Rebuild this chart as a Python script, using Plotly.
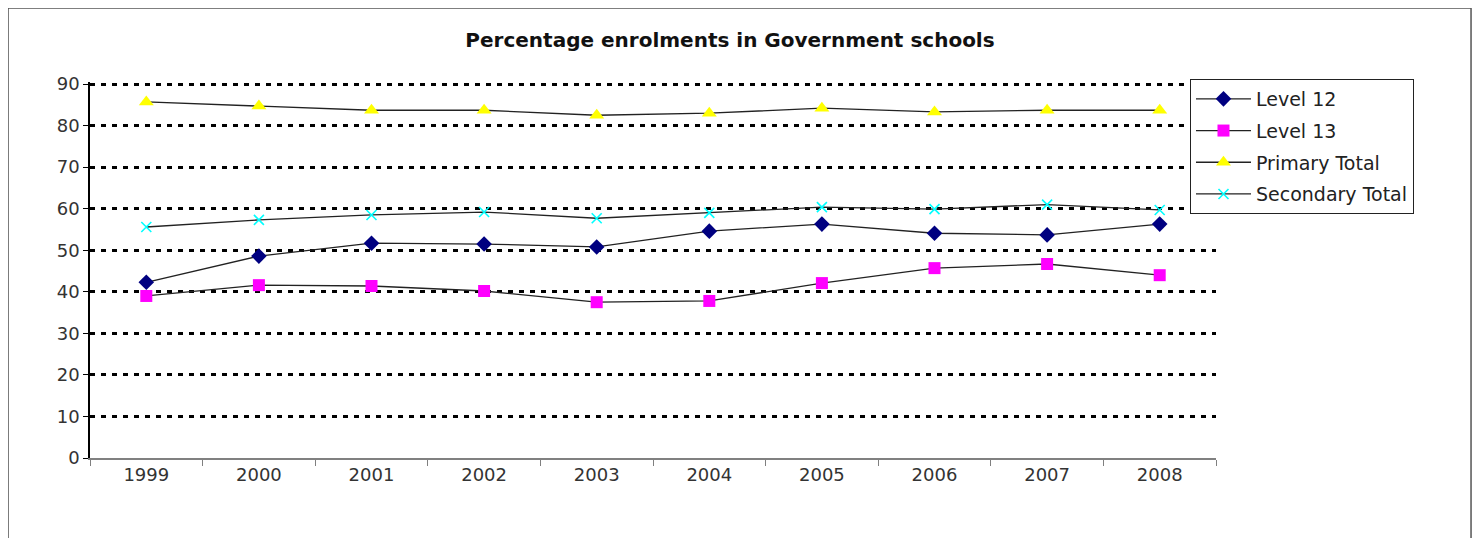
import plotly.graph_objects as go

years = ['1999', '2000', '2001', '2002', '2003', '2004', '2005', '2006', '2007', '2008']
level_12 = [42.3, 48.6, 51.7, 51.5, 50.8, 54.6, 56.3, 54.1, 53.7, 56.3]
level_13 = [39.0, 41.6, 41.4, 40.2, 37.5, 37.8, 42.1, 45.7, 46.7, 44.0]
primary_total = [85.7, 84.7, 83.7, 83.7, 82.5, 83.0, 84.2, 83.3, 83.7, 83.7]
secondary_total = [55.6, 57.3, 58.5, 59.2, 57.7, 59.0, 60.4, 59.9, 61.0, 59.7]

FONT = 'DejaVu Sans'

fig = go.Figure()

def add_series(name, values, symbol, color, size, line_w=0):
    marker = dict(symbol=symbol, color=color, size=size)
    if line_w:
        marker['line'] = dict(color=color, width=line_w)
    fig.add_trace(go.Scatter(x=years, y=values, name=name, mode='lines+markers',
                             legendgroup=name,
                             line=dict(color='#222222', width=1.3),
                             marker=marker))

add_series('Level 12', level_12, 'diamond', '#000080', 12)
add_series('Level 13', level_13, 'square', '#FF00FF', 12)
add_series('Primary Total', primary_total, 'triangle-up', '#FFFF00', 13)
add_series('Secondary Total', secondary_total, 'x-thin-open', '#00FFFF', 10, 1.6)

# chart frame around everything
fig.add_shape(type='rect', xref='paper', yref='paper',
              x0=-0.0728, x1=1.2265, y0=-0.4, y1=1.1968,
              line=dict(color='#555555', width=1.5), layer='below')

# page body adds 8px offset, so margins are shifted by 8
fig.update_layout(
    width=1481, height=538,
    margin=dict(l=82, r=273, t=74, b=88),
    paper_bgcolor='white', plot_bgcolor='white',
    font=dict(family=FONT, size=18, color='#333333'),
    title=dict(text='<b>Percentage enrolments in Government schools</b>',
               x=0.4875, xref='container', xanchor='center',
               y=0.9405, yref='container', yanchor='middle',
               font=dict(family=FONT, size=20, color='#111111')),
    legend=dict(x=0.9769, y=1.008, xanchor='left', yanchor='top',
                bgcolor='white', bordercolor='#222222', borderwidth=1,
                font=dict(family=FONT, size=19, color='#222222'),
                itemwidth=55,
                traceorder='grouped', tracegroupgap=4),
    showlegend=True,
)

fig.update_xaxes(type='category', range=[-0.5, 9.5], tickson='boundaries',
                 ticks='outside', ticklen=6, tickcolor='#808080',
                 showline=True, linecolor='#808080', linewidth=1.5,
                 showgrid=False, zeroline=False)

fig.update_yaxes(range=[0, 90.5], tickvals=[0, 10, 20, 30, 40, 50, 60, 70, 80, 90],
                 ticks='outside', ticklen=5,
                 tickcolor='black', showline=True, linecolor='black', linewidth=1.5,
                 showgrid=True, gridcolor='black', gridwidth=3, griddash='5px,6px',
                 zeroline=True, zerolinecolor='#808080', zerolinewidth=1.5)

fig.write_html('out.html')
